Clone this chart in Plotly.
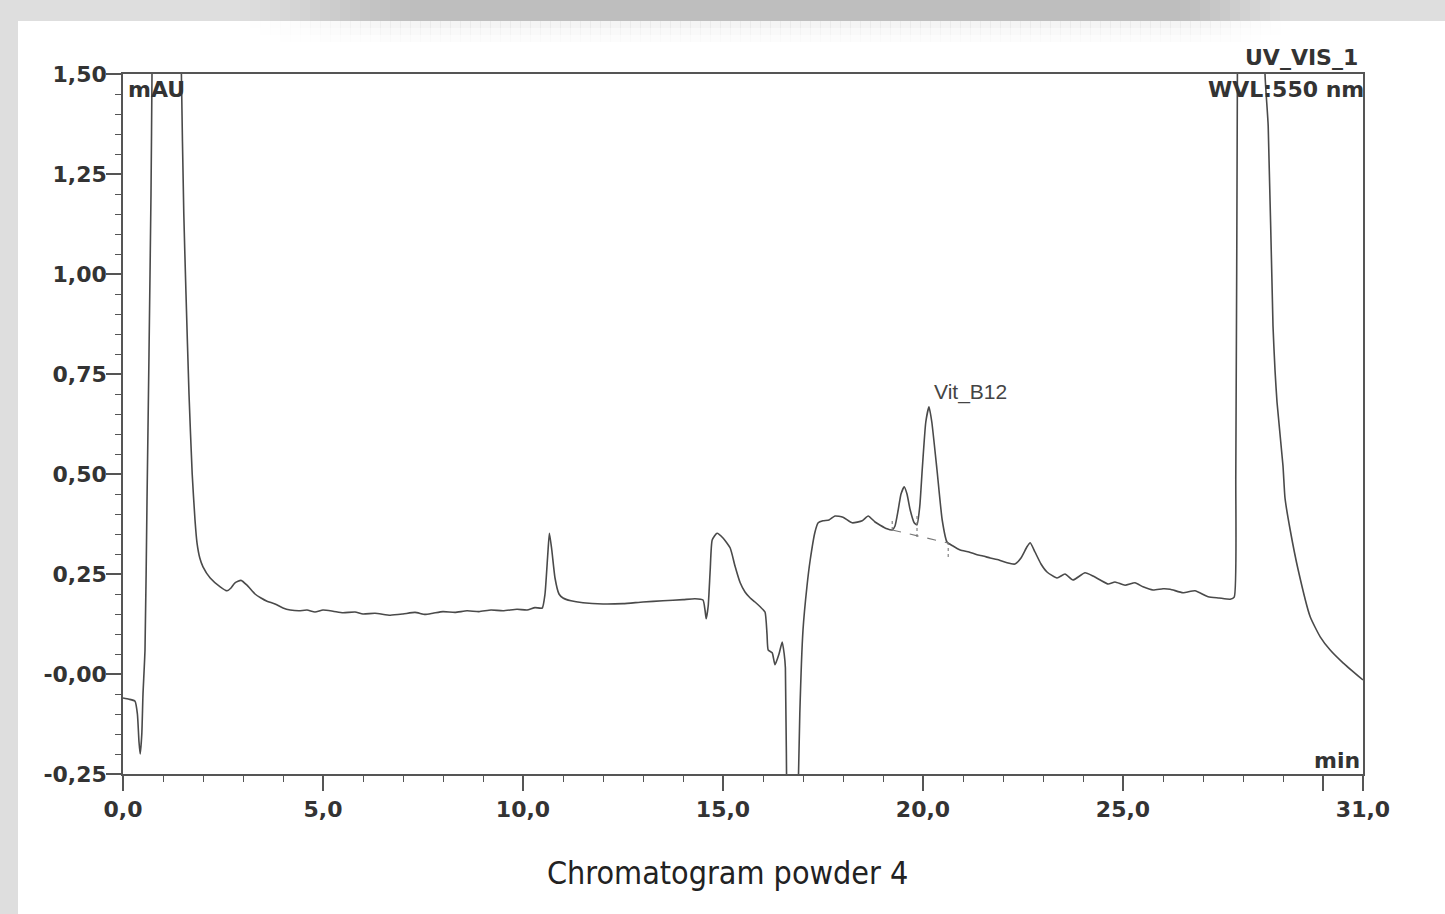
import numpy as np
import plotly.graph_objects as go

# ---------------- data ----------------
time_min = [
    0.00, 0.15, 0.30, 0.36, 0.40, 0.43, 0.47, 0.50, 0.55, 0.60, 0.65, 0.70, 0.725, 0.78, 0.90, 1.30,
    1.40, 1.46, 1.52, 1.575, 1.65, 1.73, 1.80, 1.85, 1.92, 2.00, 2.18, 2.43, 2.60, 2.70, 2.80, 2.95,
    3.10, 3.30, 3.45, 3.60, 3.80, 4.00, 4.18, 4.40, 4.60, 4.80, 5.00, 5.25, 5.50, 5.80, 6.00, 6.30,
    6.68, 7.00, 7.30, 7.55, 7.75, 8.00, 8.30, 8.60, 8.90, 9.20, 9.50, 9.85, 10.10, 10.30, 10.48, 10.55,
    10.62, 10.66, 10.72, 10.80, 10.90, 11.00, 11.20, 11.50, 12.00, 12.50, 13.00, 13.50, 14.00, 14.30,
    14.50, 14.55, 14.58, 14.63, 14.68, 14.73, 14.85, 15.00, 15.18, 15.30, 15.43, 15.55, 15.68, 15.80,
    15.93, 16.05, 16.10, 16.13, 16.23, 16.30, 16.40, 16.48, 16.53, 16.56, 16.60, 16.65, 16.80, 16.86,
    16.92, 17.00, 17.10, 17.18, 17.30, 17.38, 17.50, 17.65, 17.80, 18.00, 18.23, 18.48, 18.63, 18.80,
    18.93, 19.10, 19.23, 19.30, 19.38, 19.45, 19.53, 19.60, 19.68, 19.78, 19.85, 19.92, 19.98, 20.07,
    20.15, 20.22, 20.35, 20.48, 20.60, 20.75, 20.93, 21.15, 21.35, 21.50, 21.68, 21.90, 22.10, 22.30,
    22.45, 22.60, 22.68, 22.80, 22.95, 23.10, 23.35, 23.55, 23.75, 24.05, 24.25, 24.43, 24.63, 24.80,
    25.05, 25.30, 25.50, 25.75, 26.00, 26.18, 26.50, 26.80, 27.13, 27.40, 27.68, 27.78, 27.82, 27.86,
    27.90, 28.40, 28.55, 28.63, 28.75, 28.80, 28.85, 29.00, 29.05, 29.18, 29.38, 29.68, 29.93, 30.18,
    30.50, 31.00,
]
absorbance_mAU = [
    -0.060, -0.063, -0.068, -0.100, -0.170, -0.200, -0.150, -0.050, 0.060, 0.430, 0.800, 1.200, 1.500, 2.500, 3.500, 3.500,
    2.500, 1.500, 1.150, 0.950, 0.700, 0.500, 0.385, 0.328, 0.290, 0.268, 0.240, 0.218, 0.208, 0.215, 0.228, 0.234,
    0.222, 0.200, 0.190, 0.182, 0.175, 0.165, 0.160, 0.158, 0.160, 0.155, 0.160, 0.157, 0.153, 0.155, 0.150, 0.152,
    0.147, 0.150, 0.154, 0.149, 0.152, 0.156, 0.154, 0.158, 0.156, 0.160, 0.158, 0.162, 0.160, 0.166, 0.165, 0.200,
    0.300, 0.352, 0.310, 0.240, 0.200, 0.190, 0.183, 0.178, 0.175, 0.176, 0.180, 0.183, 0.186, 0.188,
    0.185, 0.160, 0.138, 0.170, 0.260, 0.335, 0.352, 0.340, 0.315, 0.270, 0.228, 0.205, 0.190, 0.180,
    0.168, 0.155, 0.100, 0.060, 0.053, 0.023, 0.050, 0.080, 0.050, 0.015, -0.400, -0.800, -0.800, -0.400,
    -0.100, 0.110, 0.220, 0.285, 0.355, 0.378, 0.383, 0.385, 0.395, 0.392, 0.378, 0.383, 0.395, 0.380,
    0.372, 0.363, 0.360, 0.370, 0.410, 0.450, 0.468, 0.450, 0.410, 0.378, 0.373, 0.420, 0.510, 0.630,
    0.668, 0.630, 0.510, 0.385, 0.330, 0.320, 0.310, 0.305, 0.298, 0.295, 0.290, 0.285, 0.278, 0.275,
    0.290, 0.318, 0.328, 0.305, 0.275, 0.255, 0.240, 0.250, 0.235, 0.253, 0.245, 0.235, 0.225, 0.230,
    0.222, 0.228, 0.218, 0.210, 0.213, 0.212, 0.203, 0.208, 0.193, 0.190, 0.187, 0.192, 0.500, 1.500,
    3.000, 3.000, 1.500, 1.370, 0.870, 0.760, 0.680, 0.520, 0.440, 0.360, 0.260, 0.143, 0.093, 0.060,
    0.028, -0.015,
]

# integration baseline of the peak group
baseline_t = [19.23, 20.63]
baseline_v = [0.360, 0.3275]
# peak delimiter drop marks
drop_t = [19.23, 19.85, 20.63]
drop_lo = [0.360, 0.3425, 0.2925]
drop_hi = [0.390, 0.4025, 0.3275]

peak_name = "Vit_B12"
peak_label_t = 21.18
peak_label_v = 0.705

y_tickvals = [1.50, 1.25, 1.00, 0.75, 0.50, 0.25, 0.00, -0.25]
y_ticktext = ["1,50", "1,25", "1,00", "0,75", "0,50", "0,25", "-0,00", "-0,25"]
x_tickvals = [0, 5, 10, 15, 20, 25, 30, 31]
x_ticktext = ["0,0", "5,0", "10,0", "15,0", "20,0", "25,0", "", "31,0"]

# ---------------- figure ----------------
W, H = 1445, 914
ML, MR, MT, MB = 123, 82, 74, 140
PW, PH = W - ML - MR, H - MT - MB


def px_x(p):
    return (p - ML) / PW


def px_y(p):
    return (H - MB - p) / PH


LINE = "#4a4a4a"
AX = "#555555"
TXT = "#333333"

fig = go.Figure()
fig.add_trace(go.Scatter(x=time_min, y=absorbance_mAU, mode="lines",
                         line=dict(color=LINE, width=1.6, shape="spline", smoothing=0.5),
                         hoverinfo="skip"))
fig.add_trace(go.Scatter(x=baseline_t, y=baseline_v, mode="lines",
                         line=dict(color="#777777", width=1.1, dash="dash"), hoverinfo="skip"))
dx, dy = [], []
for t, lo, hi in zip(drop_t, drop_lo, drop_hi):
    dx += [t, t, None]
    dy += [lo, hi, None]
fig.add_trace(go.Scatter(x=dx, y=dy, mode="lines",
                         line=dict(color="#777777", width=1.1, dash="dot"), hoverinfo="skip"))

shapes = []
# white sheet on grey page
shapes.append(dict(type="rect", xref="paper", yref="paper", layer="below",
                   x0=px_x(18), x1=px_x(W + 5), y0=px_y(21), y1=px_y(H + 5),
                   fillcolor="white", line=dict(width=0)))
# top shadow band
step = 10
for x0 in range(0, W, step):
    xc = x0 + step / 2
    if xc < 220:
        w = 0.0
    elif xc < 430:
        w = (xc - 220) / 210
    elif xc < 1170:
        w = 1.0
    elif xc < 1300:
        w = 1 - (xc - 1170) / 130
    else:
        w = 0.0
    w = w * w * (3 - 2 * w)
    g = int(round(222 - 32 * w))
    shapes.append(dict(type="rect", xref="paper", yref="paper", layer="below",
                       x0=px_x(x0), x1=px_x(x0 + step + 1), y0=px_y(21), y1=px_y(-2),
                       fillcolor=f"rgb({g},{g},{g})", line=dict(width=0)))
    if w > 0:
        for k, a in enumerate([0.10, 0.06, 0.03]):
            shapes.append(dict(type="rect", xref="paper", yref="paper", layer="below",
                               x0=px_x(x0), x1=px_x(x0 + step + 1),
                               y0=px_y(21 + 7 * (k + 1)), y1=px_y(21 + 7 * k),
                               fillcolor=f"rgba(150,150,150,{a * w:.3f})", line=dict(width=0)))

bold = dict(family="DejaVu Sans, Liberation Sans, sans-serif", size=22, color=TXT, weight="bold")
annotations = [
    dict(text="mAU", x=0.08, y=1.462, xref="x", yref="y", xanchor="left", yanchor="middle",
         showarrow=False, font=bold),
    dict(text="UV_VIS_1", x=px_x(1360), y=px_y(57), xref="paper", yref="paper", xanchor="right",
         yanchor="middle", showarrow=False, font=bold),
    dict(text="WVL:550 nm", x=px_x(1366), y=px_y(89), xref="paper", yref="paper", xanchor="right",
         yanchor="middle", showarrow=False, font=bold),
    dict(text="min", x=px_x(1362), y=px_y(760), xref="paper", yref="paper", xanchor="right",
         yanchor="middle", showarrow=False, font=bold),
    dict(text=peak_name, x=peak_label_t, y=peak_label_v, xref="x", yref="y", xanchor="center",
         yanchor="middle", showarrow=False,
         font=dict(family="Liberation Sans, Arial, sans-serif", size=21, color="#444444")),
    dict(text="Chromatogram powder 4", x=px_x(727), y=px_y(873), xref="paper", yref="paper",
         xanchor="center", yanchor="middle", showarrow=False,
         font=dict(family="Liberation Sans Narrow, DejaVu Sans Condensed, Roboto Condensed, sans-serif",
                   size=32, color="#222222")),
]

fig.update_layout(
    width=W, height=H,
    margin=dict(l=ML, r=MR, t=MT, b=MB, pad=0),
    paper_bgcolor="#dedede", plot_bgcolor="rgba(0,0,0,0)",
    showlegend=False,
    shapes=shapes, annotations=annotations,
    xaxis=dict(range=[0, 31], tickmode="array", tickvals=x_tickvals, ticktext=x_ticktext,
               ticks="outside", ticklen=15, tickwidth=1.5, tickcolor=AX,
               minor=dict(dtick=1, tick0=0, ticks="outside", ticklen=6, tickwidth=1.3, tickcolor=AX),
               showline=True, linecolor=AX, linewidth=1.5, mirror=True,
               showgrid=False, zeroline=False, automargin=False, fixedrange=True,
               tickfont=bold),
    yaxis=dict(range=[-0.25, 1.5], tickmode="array", tickvals=y_tickvals, ticktext=y_ticktext,
               ticks="outside", ticklen=15, tickwidth=1.5, tickcolor=AX,
               minor=dict(dtick=0.05, tick0=0, ticks="outside", ticklen=6, tickwidth=1.3, tickcolor=AX),
               showline=True, linecolor=AX, linewidth=1.5, mirror=True,
               showgrid=False, zeroline=False, automargin=False, fixedrange=True,
               ticklabelstandoff=-5, tickfont=bold),
)

fig.write_html("out.html", config={"displayModeBar": False})
